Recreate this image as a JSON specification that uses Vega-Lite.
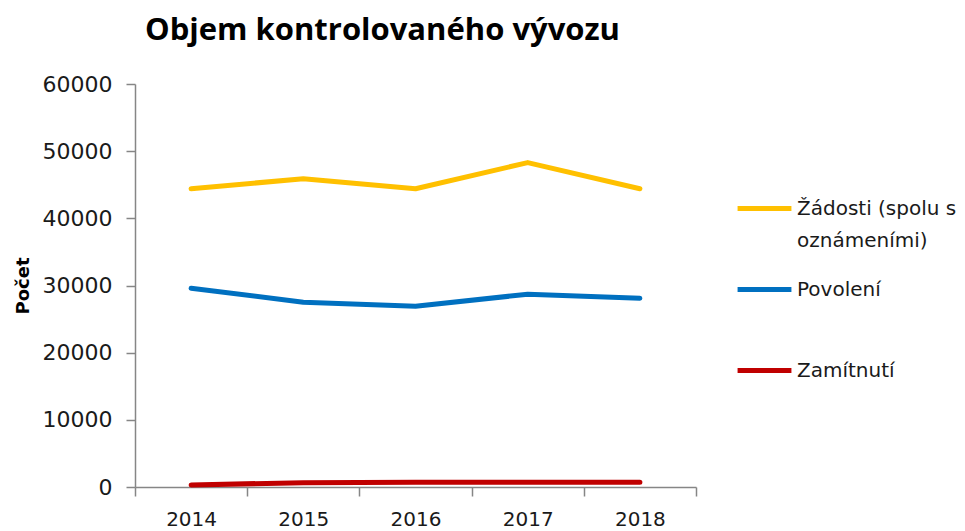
{
  "$schema": "https://vega.github.io/schema/vega-lite/v6.json",
  "autosize": "none",
  "width": 561,
  "height": 403,
  "padding": {"left": 135, "top": 84, "right": 269, "bottom": 44},
  "background": "white",
  "title": {
    "text": "Objem kontrolovaného vývozu",
    "font": "Open Sans",
    "fontSize": 31,
    "fontWeight": "bold",
    "color": "#000000",
    "anchor": "middle",
    "dx": -33,
    "offset": 26
  },
  "data": {
    "values": [
      {"rok": "2014", "serie": "Žádosti (spolu s oznámeními)", "pocet": 44400},
      {"rok": "2015", "serie": "Žádosti (spolu s oznámeními)", "pocet": 45900},
      {"rok": "2016", "serie": "Žádosti (spolu s oznámeními)", "pocet": 44400},
      {"rok": "2017", "serie": "Žádosti (spolu s oznámeními)", "pocet": 48300},
      {"rok": "2018", "serie": "Žádosti (spolu s oznámeními)", "pocet": 44400},
      {"rok": "2014", "serie": "Povolení", "pocet": 29600},
      {"rok": "2015", "serie": "Povolení", "pocet": 27500},
      {"rok": "2016", "serie": "Povolení", "pocet": 26900},
      {"rok": "2017", "serie": "Povolení", "pocet": 28700},
      {"rok": "2018", "serie": "Povolení", "pocet": 28100},
      {"rok": "2014", "serie": "Zamítnutí", "pocet": 300},
      {"rok": "2015", "serie": "Zamítnutí", "pocet": 650},
      {"rok": "2016", "serie": "Zamítnutí", "pocet": 700},
      {"rok": "2017", "serie": "Zamítnutí", "pocet": 700},
      {"rok": "2018", "serie": "Zamítnutí", "pocet": 700}
    ]
  },
  "mark": {"type": "line", "strokeWidth": 5, "strokeCap": "round", "strokeJoin": "round"},
  "encoding": {
    "x": {
      "field": "rok",
      "type": "ordinal",
      "bandPosition": 0.5,
      "scale": {"type": "band", "paddingInner": 0, "paddingOuter": 0},
      "axis": {
        "title": null,
        "labelAngle": 0,
        "labelFont": "DejaVu Sans",
        "labelFontSize": 20,
        "labelColor": "#1a1a1a",
        "labelPadding": 13,
        "tickBand": "extent",
        "tickSize": 9,
        "tickColor": "#868686",
        "domainColor": "#868686",
        "tickWidth": 1.5,
        "domainWidth": 1.5
      }
    },
    "y": {
      "field": "pocet",
      "type": "quantitative",
      "scale": {"domain": [0, 60000], "nice": false},
      "axis": {
        "title": "Počet",
        "titleFont": "DejaVu Sans",
        "titleFontSize": 18,
        "titleFontWeight": "bold",
        "titleColor": "#000000",
        "titlePadding": 10,
        "values": [0, 10000, 20000, 30000, 40000, 50000, 60000],
        "format": "d",
        "labelFont": "DejaVu Sans",
        "labelFontSize": 22,
        "labelColor": "#1a1a1a",
        "labelPadding": 14,
        "tickSize": 9,
        "tickColor": "#868686",
        "domainColor": "#868686",
        "tickWidth": 1.5,
        "domainWidth": 1.5,
        "grid": false
      }
    },
    "color": {
      "field": "serie",
      "type": "nominal",
      "scale": {
        "domain": ["Žádosti (spolu s oznámeními)", "Povolení", "Zamítnutí"],
        "range": ["#FFC000", "#0070C0", "#C00000"]
      },
      "legend": {
        "title": null,
        "orient": "none",
        "legendX": 600,
        "legendY": 95,
        "gridAlign": "all",
        "symbolType": "stroke",
        "symbolSize": 2900,
        "symbolStrokeWidth": 5,
        "labelFont": "DejaVu Sans",
        "labelFontSize": 20,
        "labelColor": "#1a1a1a",
        "labelOffset": 3,
        "labelLimit": 400,
        "rowPadding": 9,
        "labelExpr": "datum.label == 'Žádosti (spolu s oznámeními)' ? ['Žádosti (spolu s', 'oznámeními)'] : datum.label",
        "encode": {"labels": {"update": {"lineHeight": {"value": 32}}}}
      }
    }
  },
  "config": {"view": {"stroke": null}}
}
